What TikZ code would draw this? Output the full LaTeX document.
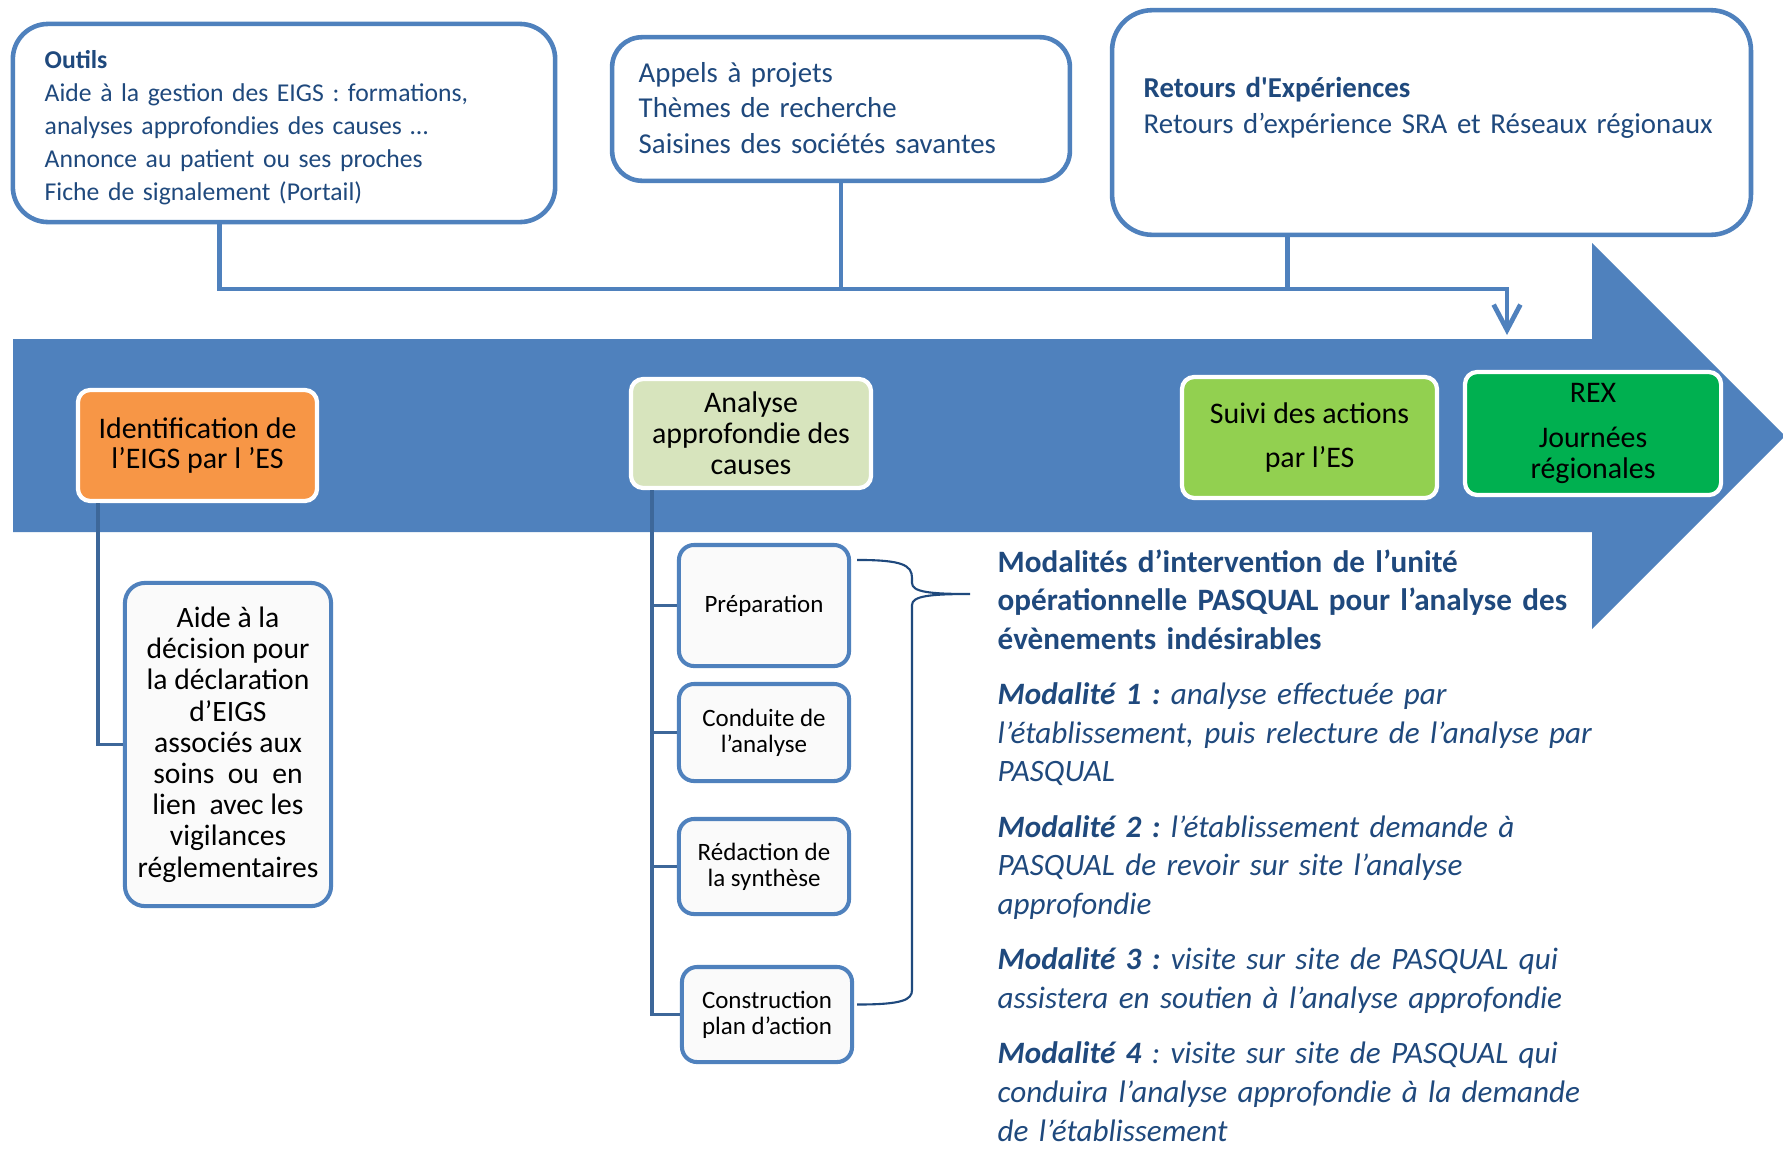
\documentclass[tikz,border=0pt]{standalone}
\usepackage{fontspec}
\setmainfont{Carlito}
\frenchspacing
\usetikzlibrary{calc,arrows.meta}

\definecolor{arrowblue}{HTML}{4F81BD}
\definecolor{boxblue}{HTML}{4F81BD}
\definecolor{treeblue}{HTML}{3D6799}
\definecolor{textblue}{HTML}{1F497D}
\definecolor{orangebox}{HTML}{F79646}
\definecolor{sagebox}{HTML}{D7E4BD}
\definecolor{limebox}{HTML}{92D050}
\definecolor{greenbox}{HTML}{00B050}

\begin{document}
\begin{tikzpicture}[x=0.01cm,y=-0.01cm]
% Page frame, 1 unit = 1 pixel of the slide, y going down
\fill[white] (0,0) rectangle (1783,1148);
\useasboundingbox (0,0) rectangle (1783,1148);

% Styles for the boxes and the lines between them
\tikzstyle{topbox}=[draw=boxblue, line width=1.3pt, fill=white]
\tikzstyle{toptext}=[text=textblue, anchor=base west, align=left, text width=6cm, inner sep=0pt]
\tikzstyle{stage}=[draw=white, line width=1.2pt, rounded corners=3.5pt, text=black, align=center, inner sep=0pt, font=\fontsize{8.5pt}{8.7pt}\selectfont]
\tikzstyle{substep}=[draw=boxblue, line width=1.15pt, fill=white!98!black, rounded corners=4.3pt, align=center, inner sep=0pt, minimum width=1.70cm, font=\fontsize{7.1pt}{7.4pt}\selectfont]
\tikzstyle{link}=[draw=boxblue, line width=1.35pt]
\tikzstyle{tree}=[draw=treeblue, line width=1.05pt]

% The big process arrow running across the slide
\fill[arrowblue] (13,339) -- (1592,339) -- (1592,243) -- (1785,436) -- (1592,629) -- (1592,532) -- (13,532) -- cycle;

% The three boxes on top, with their texts
\node[topbox, rounded corners=10pt, minimum width=5.42cm, minimum height=1.98cm] (outils) at (284,123) {};
\node[toptext, font=\fontsize{7.3pt}{9.39pt}\selectfont] (outilstxt) at (44,68) {\textbf{Outils}\\Aide à la gestion des EIGS : formations,\\analyses approfondies des causes …\\Annonce au patient ou ses proches\\Fiche de signalement (Portail)};

\node[topbox, rounded corners=8.5pt, minimum width=4.575cm, minimum height=1.435cm] (appels) at (841,109) {};
\node[toptext, font=\fontsize{8.2pt}{10.1pt}\selectfont] (appelstxt) at (638,82) {Appels à projets\\Thèmes de recherche\\Saisines des sociétés savantes};

\node[topbox, rounded corners=11.4pt, minimum width=6.385cm, minimum height=2.245cm] (retours) at (1431.5,122.5) {};
\node[toptext, font=\fontsize{8.2pt}{10.24pt}\selectfont] (retourstxt) at (1143,97) {\textbf{Retours d\textquotesingle Expériences}\\Retours d’expérience SRA et Réseaux régionaux};

% Feed line from the top boxes into the arrow
\coordinate (bus) at (1507,289);
\coordinate (feedend) at (1507,335);
\coordinate (outilsfoot) at ($(outils.south west)+(209,0)$);
\coordinate (retoursfoot) at ($(retours.south west)+(178,0)$);
\draw[link, -{Straight Barb[length=7.2pt,width=7.6pt]}] (outilsfoot) |- (bus) -- (feedend);
\draw[link] (appels.south) -- (appels.south |- bus);
\draw[link] (retoursfoot) -- (retoursfoot |- bus);

% The four stages on the arrow
\node[stage, fill=orangebox, minimum width=2.39cm, minimum height=1.11cm] (ident) at (197.5,445.5) {Identification de\\l’EIGS par l ’ES};
\node[stage, fill=sagebox, minimum width=2.40cm, minimum height=1.09cm, font=\fontsize{8.5pt}{8.82pt}\selectfont] (analyse) at (751,433.5) {Analyse\\approfondie des\\causes};
\node[stage, fill=limebox, minimum width=2.55cm, minimum height=1.21cm] (suivi) at (1309.5,437.5) {Suivi des actions\\[3.8pt]par l’ES};
\node[stage, fill=greenbox, minimum width=2.56cm, minimum height=1.23cm] (rex) at (1593,433.5) {REX\\[4pt]Journées\\régionales};

% Help box hanging under the first stage
\node[substep, rounded corners=5.7pt, minimum width=2.06cm, minimum height=3.23cm, font=\fontsize{8.42pt}{8.88pt}\selectfont] (aide) at (228,744.5) {Aide à la\\décision pour\\la déclaration\\d’EIGS\\associés aux\\soins\ \ ou\ \ en\\lien\ \ avec les\\vigilances\\réglementaires};
\coordinate (identfoot) at ($(ident.south west)+(22,0)$);
\draw[tree] (identfoot) |- (aide.west);

% Steps of the analysis, each hooked on the line under the second stage
\coordinate (analysefoot) at ($(analyse.south west)+(23,0)$);

\newcommand{\drawstep}[5]{
% #1 = node name, #2, #3 = centre of the box
% #4 = height of the box, #5 = text
\node[substep, minimum height=#4] (#1) at (#2,#3) {#5};
\draw[tree] (analysefoot) |- (#1.west);
}

\drawstep{prep}{764}{605.5}{1.21cm}{Préparation}
\drawstep{conduite}{764}{732.5}{0.97cm}{Conduite de\\l’analyse}
\drawstep{redaction}{764}{866.5}{0.95cm}{Rédaction de\\la synthèse}
\drawstep{constr}{767}{1014.5}{0.95cm}{Construction\\plan d’action}

% Brace gathering the steps
\coordinate (bracetop) at ($(prep.north east)+(6,17)$);
\coordinate (bracebot) at ($(constr.east)+(3,-10)$);
\coordinate (bracetip) at (970,594);
\draw[textblue, line width=0.6pt] (bracetop) .. controls +(45,0) and +(0,-13) .. (912,578) -- (912,583) .. controls +(0,9) and +(-40,0) .. (bracetip) .. controls +(-40,0) and +(0,-9) .. (912,605) -- (912,990) .. controls +(0,10) and +(45,0) .. (bracebot);

% The four ways PASQUAL can step in
\node[anchor=base west, align=left, text width=6.5cm, inner sep=0pt, text=textblue, font=\fontsize{8.85pt}{11.0pt}\selectfont\itshape] (modal) at (997,572) {%
\textup{\textbf{Modalités d’intervention de l’unité}}\\
\textup{\textbf{opérationnelle PASQUAL pour l’analyse des}}\\
\textup{\textbf{évènements indésirables}}\\[4.7pt]
\textbf{Modalité 1 :} analyse effectuée par\\
l’établissement, puis relecture de l’analyse par\\
PASQUAL\\[4.7pt]
\textbf{Modalité 2 :} l’établissement demande à\\
PASQUAL de revoir sur site l’analyse\\
approfondie\\[4.7pt]
\textbf{Modalité 3 :} visite sur site de PASQUAL qui\\
assistera en soutien à l’analyse approfondie\\[4.7pt]
\textbf{Modalité 4} : visite sur site de PASQUAL qui\\
conduira l’analyse approfondie à la demande\\
de l’établissement};

\end{tikzpicture}
\end{document}
